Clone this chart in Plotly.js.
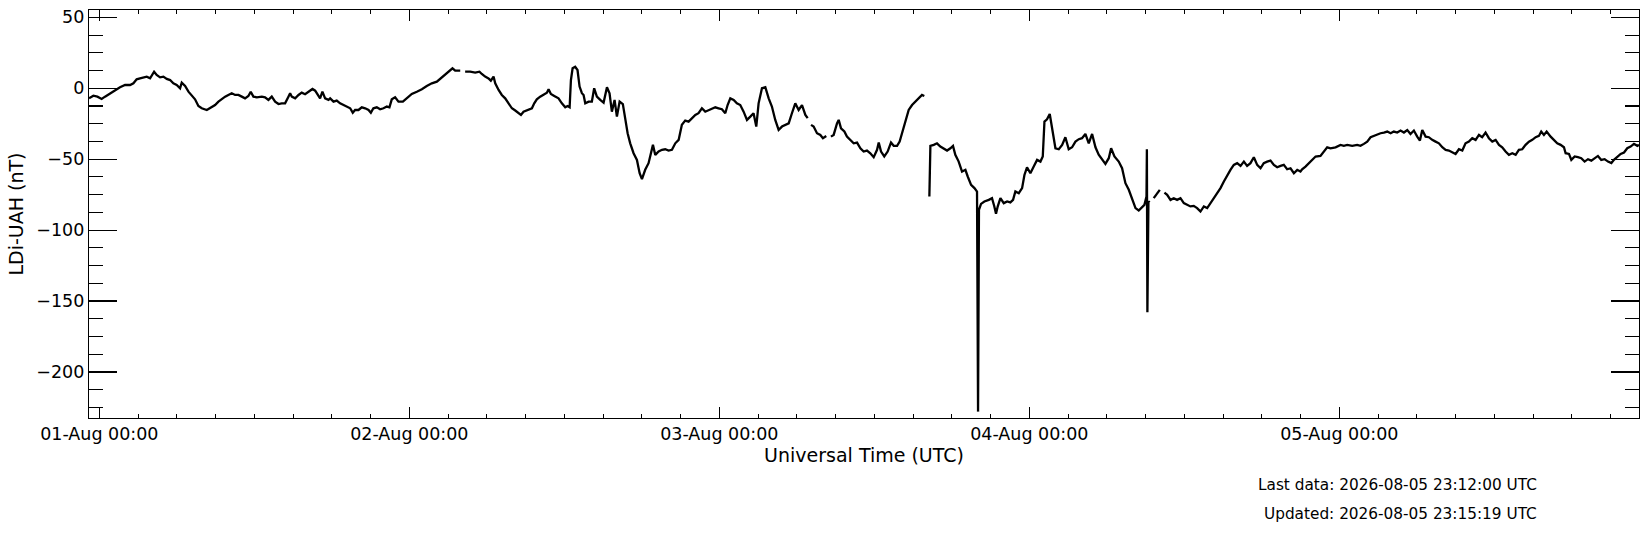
<!DOCTYPE html>
<html>
<head>
<meta charset="utf-8">
<script src="https://cdn.plot.ly/plotly-3.0.1.min.js"></script>
<style>
  html, body { margin: 0; padding: 0; background: #fff; }
  #graph { width: 1649px; height: 533px; }
</style>
</head>
<body>
<div id="graph"></div>
<script>
// LDi-UAH magnetometer trace, hours since 2026-08-01 00:00 UTC, nT.
// null marks a gap in the data.
var hours = [
  -0.80, -0.46, -0.15, 0.18, 0.44, 0.83, 1.22, 1.60, 1.99, 2.38, 2.64, 2.89, 3.15, 3.41, 3.67, 3.93,
  4.24, 4.44, 4.70, 4.96, 5.22, 5.48, 5.73, 5.99, 6.25, 6.38, 6.64, 6.90, 7.15, 7.41, 7.67, 7.93,
  8.32, 8.70, 8.96, 9.22, 9.48, 9.74, 9.99, 10.25, 10.51, 10.77, 11.03, 11.28, 11.54, 11.72, 11.93,
  12.19, 12.58, 12.83, 13.09, 13.35, 13.61, 13.87, 14.12, 14.38, 14.64, 14.77, 14.90, 15.16, 15.42,
  15.67, 15.93, 16.19, 16.50, 16.71, 16.89, 17.09, 17.27, 17.48, 17.74, 17.87, 18.13, 18.38, 18.64,
  18.90, 19.16, 19.42, 19.62, 19.80, 20.06, 20.32, 20.58, 20.84, 21.02, 21.22, 21.48, 21.74, 22.00,
  22.26, 22.46, 22.64, 22.90, 23.16, 23.50, 23.81, 24.19, 24.58, 24.97, 25.35, 25.74, 26.13, 26.52,
  26.90, 27.16, 27.34, 27.55, 27.94, 28.13, 28.32, 28.71, 29.10, 29.43, 29.61, 29.87, 30.13, 30.31,
  30.52, 30.65, 30.91, 31.16, 31.42, 31.68, 31.94, 32.20, 32.45, 32.64, 32.84, 33.23, 33.49, 33.67,
  33.87, 34.13, 34.39, 34.65, 34.78, 34.96, 35.22, 35.55, 35.81, 36.07, 36.25, 36.41, 36.51, 36.64,
  36.84, 37.02, 37.18, 37.36, 37.49, 37.62, 37.88, 38.13, 38.31, 38.52, 38.78, 39.04, 39.30, 39.50,
  39.68, 39.89, 40.07, 40.28, 40.53, 40.72, 40.90, 41.10, 41.36, 41.62, 41.83, 42.01, 42.26, 42.52,
  42.70, 42.86, 43.04, 43.30, 43.56, 43.81, 44.07, 44.33, 44.59, 44.85, 45.10, 45.36, 45.62, 45.88,
  46.14, 46.39, 46.65, 46.91, 47.17, 47.43, 47.69, 47.94, 48.20, 48.46, 48.64, 48.85, 49.11, 49.36,
  49.62, 49.88, 50.14, 50.40, 50.65, 50.86, 51.04, 51.30, 51.56, 51.82, 52.07, 52.33, 52.59, 52.85,
  53.11, 53.37, 53.62, 53.88, 54.14, 54.40, 54.66, 54.84, 54.97, 55.10, 55.30, 55.56, 55.82, 56.02,
  56.28, 56.46, 56.64, 56.85, 57.11, 57.24, 57.42, 57.68, 57.88, 58.14, 58.40, 58.66, 58.92, 59.17,
  59.43, 59.69, 59.95, 60.21, 60.34, 60.52, 60.77, 61.03, 61.29, 61.50, 61.76, 61.96, 62.14, 62.40,
  62.66, 62.92, 63.18, 63.43, 63.69, 63.87, 64.06, 64.26, 64.34, 64.60, 64.85, 65.11, 65.37, 65.63,
  65.89, 66.09, 66.27, 66.53, 66.79, 67.05, 67.23, 67.49, 67.75, 67.95, 68.03, 68.10, 68.26, 68.52,
  68.86, 69.11, 69.29, 69.42, 69.55, 69.76, 70.02, 70.28, 70.53, 70.74, 70.92, 71.18, 71.44, 71.62,
  71.82, 72.08, 72.34, 72.60, 72.86, 73.04, 73.17, 73.37, 73.58, 73.76, 74.02, 74.28, 74.54, 74.79,
  75.05, 75.31, 75.57, 75.83, 76.08, 76.34, 76.60, 76.86, 77.12, 77.37, 77.63, 77.89, 78.15, 78.33,
  78.59, 78.92, 79.18, 79.44, 79.70, 79.96, 80.22, 80.47, 80.73, 80.91, 81.07, 81.10, 81.14, 81.22,
  81.32, 81.47, 81.63, 81.89, 82.10, 82.28, 82.46, 82.67, 82.93, 83.18, 83.44, 83.70, 83.96, 84.22,
  84.47, 84.73, 84.99, 85.25, 85.51, 85.77, 86.02, 86.28, 86.54, 86.80, 87.06, 87.32, 87.57, 87.83,
  88.09, 88.35, 88.61, 88.86, 89.12, 89.38, 89.64, 89.90, 90.15, 90.41, 90.67, 90.93, 91.19, 91.45,
  91.70, 91.96, 92.22, 92.48, 92.74, 92.99, 93.12, 93.38, 93.64, 93.90, 94.16, 94.54, 94.80, 95.06,
  95.32, 95.71, 96.09, 96.35, 96.61, 97.00, 97.38, 97.64, 97.90, 98.16, 98.42, 98.67, 98.93, 99.19,
  99.45, 99.71, 99.97, 100.22, 100.48, 100.74, 101.00, 101.26, 101.51, 101.77, 102.03, 102.24, 102.42,
  102.68, 102.93, 103.19, 103.45, 103.71, 103.97, 104.23, 104.48, 104.74, 105.00, 105.26, 105.52,
  105.77, 106.03, 106.29, 106.55, 106.81, 107.06, 107.32, 107.58, 107.84, 108.10, 108.36, 108.61,
  108.87, 109.13, 109.39, 109.65, 109.90, 110.16, 110.42, 110.68, 110.94, 111.20, 111.45, 111.63,
  111.84, 112.05, 112.36, 112.62, 112.87, 113.13, 113.39, 113.52, 113.78, 113.96, 114.22, 114.47,
  114.73, 114.99, 115.25, 115.51, 115.76, 116.02, 116.28, 116.54, 116.80, 117.06, 117.26, 117.52,
  117.78, 118.04, 118.29, 118.55, 118.81, 119.07, 119.20
];

var ldiUah = [
  -7.1, -5.2, -5.9, -7.5, -5.9, -3.5, -1.7, 0.7, 2.3, 2.3, 3.5, 6.3, 7.0, 7.7, 8.2, 7.0,
  11.7, 9.4, 7.7, 8.2, 6.6, 5.8, 3.5, 2.3, 0.0, 4.0, 1.6, -2.4, -4.7, -7.8, -12.5, -14.1,
  -15.3, -13.4, -11.8, -9.4, -7.5, -5.9, -4.7, -3.5, -4.7, -4.7, -5.9, -7.1, -5.4, -2.4, -5.9,
  -6.4, -5.9, -6.4, -8.2, -5.9, -9.4, -11.1, -10.6, -10.6, -5.9, -3.5, -5.9, -7.1, -4.7,
  -3.1, -4.2, -2.4, -0.5, -1.7, -4.2, -7.1, -2.4, -7.1, -8.2, -7.1, -9.4, -8.7, -10.6,
  -11.8, -13.4, -14.1, -17.2, -15.3, -15.3, -13.4, -14.1, -15.3, -17.2, -14.1, -13.4, -14.8, -14.1,
  -12.9, -13.4, -7.8, -6.4, -9.4, -9.4, -7.1, -4.0, -2.4, -0.7, 1.6, 3.5, 4.7, 7.7,
  10.5, 12.9, 14.1, 12.4, 12.4, null, 11.7, 11.7, 11.0, 11.7, 10.1, 8.2, 7.0, 5.4,
  8.2, 3.5, -1.2, -4.7, -7.1, -10.6, -14.1, -15.7, -17.2, -18.8, -16.5, -15.3, -14.1, -10.6,
  -7.8, -5.9, -4.7, -3.1, -0.7, -4.0, -5.4, -7.1, -10.6, -13.4, -12.5, -13.4, 5.8, 14.1,
  15.2, 12.9, 1.2, -3.5, -4.7, -10.6, -9.4, -9.4, 0.0, -5.9, -8.2, -10.1, 0.7, -3.5,
  -16.5, -8.2, -20.0, -9.4, -11.1, -21.1, -31.7, -38.8, -45.8, -50.5, -59.9, -64.1, -57.5, -52.8,
  -45.8, -39.9, -47.0, -44.6, -43.4, -43.0, -43.9, -43.4, -38.8, -36.4, -25.8, -22.8, -23.5, -21.1,
  -18.8, -17.6, -14.1, -16.5, -15.3, -14.1, -13.4, -14.1, -14.8, -17.6, -11.8, -7.1, -8.2, -10.6,
  -11.8, -16.5, -22.3, -20.0, -17.6, -27.0, -10.6, 0.0, 0.7, -7.1, -12.9, -22.3, -29.4, -27.0,
  -25.8, -24.7, -17.6, -10.6, -15.3, -11.8, -18.8, -21.1, null, -25.8, -27.0, -31.7, -32.9, -35.2,
  -33.6, null, -34.1, -32.9, -24.7, -22.3, -28.2, -30.5, -34.1, -36.4, -38.8, -38.3, -42.3, -44.6,
  -43.9, -45.8, -48.6, -43.4, -38.3, -44.6, -48.1, -44.6, -38.3, -40.6, -40.6, -37.6, -31.7, -22.3,
  -15.3, -11.8, -9.4, -7.1, -4.7, -5.4, null, -76.3, -40.6, -39.9, -38.8, -41.1, -42.3, -43.9,
  -42.3, -40.6, -46.9, -51.7, -58.7, -57.5, -62.2, -68.1, -70.4, -72.8, -228.0, -85.7, -81.5, -79.8,
  -78.7, -77.5, -83.4, -88.5, -83.4, -77.5, -81.0, -79.8, -80.5, -78.7, -72.8, -74.0, -70.4, -61.1,
  -55.7, -59.9, -55.2, -50.5, -51.7, -48.1, -23.5, -21.9, -18.1, -29.4, -42.3, -43.0, -39.9, -34.5,
  -43.0, -41.6, -37.6, -35.9, -35.2, -32.2, -38.8, -32.2, -41.6, -46.9, -50.5, -53.3, -49.3, -42.3,
  -48.1, -51.7, -56.4, -66.9, -71.6, -78.7, -84.5, -86.2, -83.4, -82.2, -76.3, -43.0, -158.0, -79.8,
  -80.5, null, -77.5, -74.0, -71.6, null, -73.5, -75.1, -78.7, -77.5, -78.7, -77.5, -81.0, -82.2,
  -83.3, -82.9, -84.5, -86.9, -83.3, -84.5, -81.0, -77.5, -74.0, -70.4, -65.7, -61.0, -57.5, -54.0,
  -52.8, -54.7, -51.7, -54.7, -52.8, -48.6, -54.0, -56.4, -52.8, -51.7, -51.0, -54.0, -55.7, -54.7,
  -54.0, -57.1, -56.4, -59.9, -57.5, -58.7, -57.1, -55.2, -52.8, -50.5, -48.1, -47.7, -44.6, -41.6,
  -42.3, -41.6, -39.9, -40.6, -39.9, -40.6, -39.9, -40.6, -39.2, -37.6, -34.5, -33.6, -32.2, -31.7,
  -31.2, -30.5, -31.7, -30.5, -31.2, -29.8, -31.2, -29.4, -32.2, -29.8, -34.1, -36.9, -29.4,
  -34.1, -34.5, -36.4, -37.6, -38.8, -41.6, -43.4, -43.9, -45.3, -46.3, -43.0, -43.9,
  -38.8, -37.6, -35.2, -36.4, -32.9, -34.5, -31.2, -35.2, -37.6, -36.4, -39.9, -41.6,
  -44.6, -46.9, -45.8, -46.9, -43.4, -43.0, -39.9, -37.6, -36.4, -34.5, -33.6, -30.5,
  -32.9, -30.5, -34.1, -36.4, -38.8, -39.9, -41.6, -45.8, -46.3, -50.5, -48.1, -48.6,
  -49.3, -51.7, -50.0, -51.0, -49.3, -47.7, -50.5, -50.0, -51.7, -52.8, -50.5, -48.1,
  -46.3, -45.3, -42.3, -41.1, -39.2, -40.6, -39.9
];

var startDay = Date.UTC(2026, 7, 1);
var xRange = ['2026-07-31 23:12', '2026-08-05 23:12'];
var yRange = [-232.5, 55.2];
var lastData = 'Last data: 2026-08-05 23:12:00 UTC';
var updated = 'Updated: 2026-08-05 23:15:19 UTC';

function toDateString(h) {
    var d = new Date(startDay + h * 3600000);
    return d.toISOString().slice(0, 19).replace('T', ' ');
}

var times = hours.map(toDateString);

var trace = {
    x: times,
    y: ldiUah,
    type: 'scatter',
    mode: 'lines',
    line: { color: '#000', width: 2.3 },
    connectgaps: false,
    hoverinfo: 'skip'
};

var font = 'DejaVu Sans, sans-serif';

var layout = {
    width: 1649,
    height: 533,
    showlegend: false,
    paper_bgcolor: '#fff',
    plot_bgcolor: '#fff',
    margin: { l: 89, r: 10, t: 10, b: 115 },
    font: { family: font, size: 17, color: '#000' },
    xaxis: {
        type: 'date',
        range: xRange,
        tick0: '2026-08-01',
        dtick: 86400000,
        tickformat: '%d-%b %H:%M',
        ticks: 'inside',
        ticklen: 11,
        tickwidth: 1.2,
        tickcolor: '#000',
        minor: { dtick: 10800000, ticks: 'inside', ticklen: 4, tickwidth: 1.1, tickcolor: '#000' },
        showline: true,
        linecolor: '#000',
        linewidth: 1.2,
        mirror: 'allticks',
        showgrid: false,
        zeroline: false,
        tickfont: { size: 17.5 },
        title: { text: 'Universal Time (UTC)', font: { size: 19 }, standoff: 5 }
    },
    yaxis: {
        range: yRange,
        tick0: 0,
        dtick: 50,
        ticks: 'inside',
        ticklen: 28,
        tickwidth: 1.2,
        tickcolor: '#000',
        minor: { dtick: 12.5, ticks: 'inside', ticklen: 14, tickwidth: 1.1, tickcolor: '#000' },
        showline: true,
        linecolor: '#000',
        linewidth: 1.2,
        mirror: 'allticks',
        showgrid: false,
        zeroline: false,
        tickfont: { size: 17.5 },
        title: { text: 'LDi-UAH (nT)', font: { size: 19 }, standoff: 7 }
    },
    annotations: [
        { text: lastData, xref: 'paper', yref: 'paper', x: 0.9355, y: -0.164,
          xanchor: 'right', yanchor: 'middle', showarrow: false, font: { size: 15.3 } },
        { text: updated, xref: 'paper', yref: 'paper', x: 0.9355, y: -0.235,
          xanchor: 'right', yanchor: 'middle', showarrow: false, font: { size: 15.3 } }
    ]
};

Plotly.newPlot('graph', [trace], layout, { staticPlot: true });
</script>
</body>
</html>
